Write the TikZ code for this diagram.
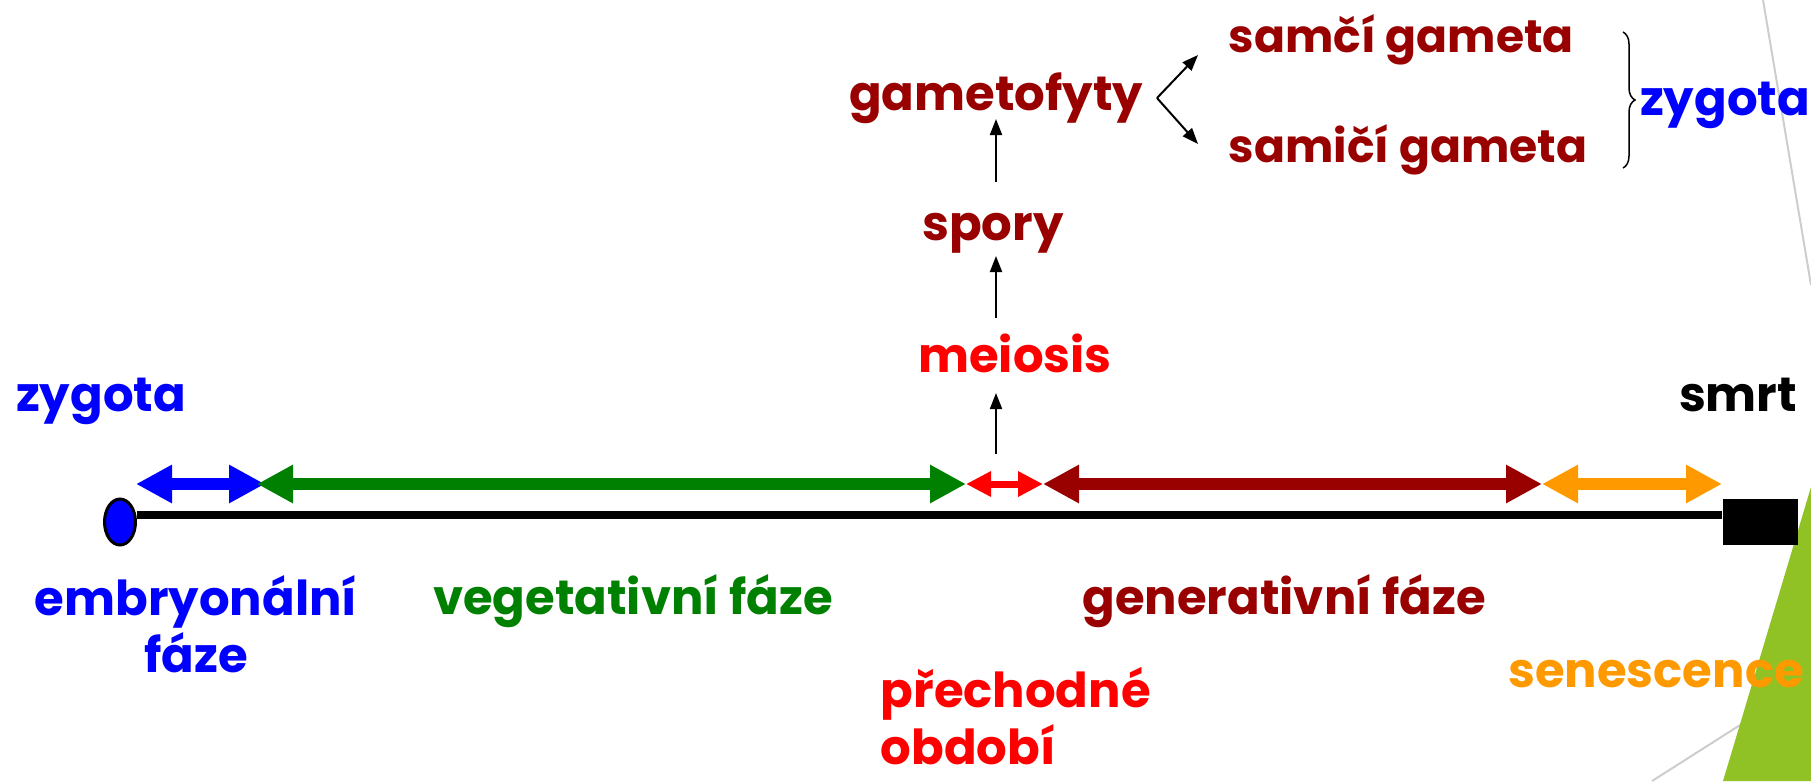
\documentclass[tikz,border=0pt]{standalone}
\usepackage{fontspec}
\setmainfont{Poppins}
\usetikzlibrary{arrows.meta,shapes.geometric,decorations.pathreplacing}
\definecolor{darkred}{RGB}{153,0,0}
\definecolor{orangec}{RGB}{255,153,0}
\definecolor{greenc}{RGB}{0,128,0}
\definecolor{facetgreen}{RGB}{144,194,38}
\definecolor{linegray}{RGB}{205,205,205}
\begin{document}
\begin{tikzpicture}[x=0.1mm, y=-0.1mm,
  every node/.style={font=\bfseries\fontsize{13.7}{16}\selectfont, inner sep=0pt},
  gamete/.style={darkred, anchor=base west, font=\bfseries\fontsize{13}{16}\selectfont},
  phase/.style={line width=1.2mm, {Triangle[length=3.6mm,width=3.6mm]}-{Triangle[length=3.6mm,width=3.6mm]}},
  smallphase/.style={line width=0.7mm, {Triangle[length=2.5mm,width=2.4mm]}-{Triangle[length=2.5mm,width=2.4mm]}},
  step arrow/.style={line width=0.2mm, -{Triangle[length=1.6mm,width=1.2mm]}}]
  \useasboundingbox (0,0) rectangle (1811,781);
  % background decoration
  \draw[linegray, line width=0.2mm] (1763,0) -- (1811,285);
  \draw[linegray, line width=0.2mm] (1652,781) -- (1811,680);
  \fill[facetgreen] (1811,487) -- (1723,781) -- (1811,781) -- cycle;
  % time line
  \node[draw, fill=blue, ellipse, line width=0.3mm, minimum width=3.1mm, minimum height=4.6mm] (zyg) at (120,522) {};
  \node[fill=black, minimum width=7.5mm, minimum height=4.6mm] (death) at (1760,522) {};
  \coordinate (ly) at (0,515);
  \draw[line width=0.8mm] (zyg.east |- ly) -- (death.west |- ly);
  \coordinate (p0) at (136,484);
  \coordinate (p1) at (265,484);
  \coordinate (p2) at (257,484);
  \coordinate (p3) at (966,484);
  \coordinate (p4) at (1043,484);
  \coordinate (p5) at (1542,484);
  \coordinate (p6) at (1722,484);
  \draw[phase, blue] (p0) -- (p1);
  \draw[phase, greenc] (p2) -- (p3);
  \draw[smallphase, red] (p3) -- (p4);
  \draw[phase, darkred] (p4) -- (p5);
  \draw[phase, orangec] (p5) -- (p6);
  % labels
  \node[blue, anchor=base] (zygL) at (101,411) {zygota};
  \node[anchor=base] (smrt) at (1738,411) {smrt};
  \node[blue, anchor=base, align=center] (embryo) at (196,672) {embryonální\\fáze};
  \node[greenc, anchor=base] (veget) at (633,614) {vegetativní fáze};
  \node[darkred, anchor=base] (gener) at (1284,614) {generativní fáze};
  \node[orangec, anchor=base] (senes) at (1656,687) {senescence};
  \node[red, anchor=base west, align=left] (prech) at (880,764) {přechodné\\období};
  % development upwards
  \node[red, anchor=base] (meio) at (1015,372) {meiosis};
  \node[darkred, anchor=base] (spory) at (993,240) {spory};
  \node[darkred, anchor=base] (gfyt) at (996,110) {gametofyty};
  \node[gamete] (male) at (1228,52) {samčí gameta};
  \node[gamete] (female) at (1228,162) {samičí gameta};
  \node[blue, anchor=base] (zygR) at (1725,115) {zygota};
  \coordinate (a0) at (996,454);
  \coordinate (a1) at (996,393);
  \coordinate (a2) at (996,318);
  \coordinate (a3) at (996,256);
  \coordinate (a4) at (996,182);
  \coordinate (a5) at (996,119);
  \draw[step arrow] (a0) -- (a1);
  \draw[step arrow] (a2) -- (a3);
  \draw[step arrow] (a4) -- (a5);
  \coordinate (fork) at (1157,98);
  \coordinate (f1) at (1198,55);
  \coordinate (f2) at (1198,144);
  \draw[step arrow] (fork) -- (f1);
  \draw[step arrow] (fork) -- (f2);
  \draw[line width=0.15mm, decorate, decoration={brace, amplitude=1.2mm}] (1623,32) -- (1623,168);
\end{tikzpicture}
\end{document}
